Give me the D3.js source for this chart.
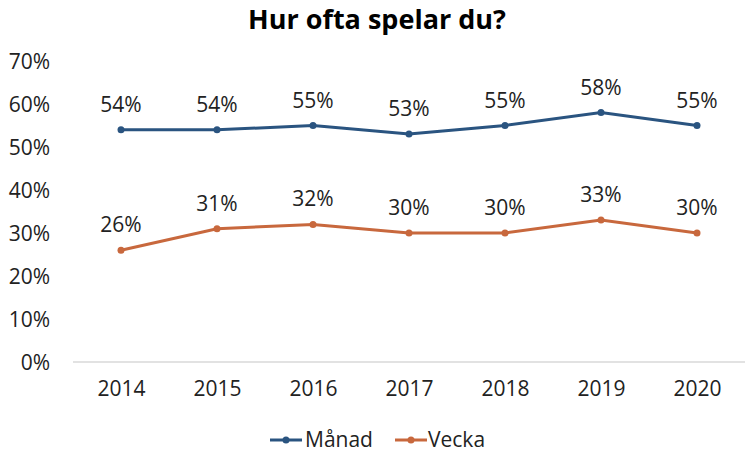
<!DOCTYPE html>
<html><head><meta charset="utf-8">
<script src="https://cdn.jsdelivr.net/npm/d3@7"></script>
<style>body{margin:0;background:#fff}svg{display:block}text{font-family:"Open Sans","Noto Sans",sans-serif;fill:#222}</style>
</head><body><svg id="c" width="750" height="458"></svg>
<script>
const years = ["2014","2015","2016","2017","2018","2019","2020"];
const manad = [54,54,55,53,55,58,55];
const vecka = [26,31,32,30,30,33,30];
const yTicks = [0,10,20,30,40,50,60,70];
const seriesNames = ["Månad","Vecka"];
const colors = ["#2a5480","#c8683d"];

const svg = d3.select("#c");
const x = d3.scalePoint().domain(years).range([121,697]);
const y = d3.scaleLinear().domain([0,70]).range([362,61]);

svg.append("text").attr("x",377).attr("y",29).attr("text-anchor","middle")
  .style("font-size","27px").style("font-weight","bold").style("fill","#000").text("Hur ofta spelar du?");

const ya = svg.append("g").attr("transform","translate(50,0)")
  .call(d3.axisLeft(y).tickValues(yTicks).tickSize(0).tickPadding(0).tickFormat(d=>d+"%"));
ya.select(".domain").remove();
ya.selectAll("text").style("font-size","21px").attr("dy","0.35em");

svg.append("line").attr("x1",73).attr("x2",745).attr("y1",y(0)).attr("y2",y(0))
  .attr("stroke","#d9d9d9").attr("stroke-width",1.3);

const xa = svg.append("g").attr("transform",`translate(0,${y(0)})`)
  .call(d3.axisBottom(x).tickSize(0).tickPadding(34));
xa.select(".domain").remove();
xa.selectAll("text").style("font-size","21px").attr("dy","0");

[manad,vecka].forEach((vals,i)=>{
  const pts = years.map((yr,j)=>[x(yr),y(vals[j]),vals[j]]);
  svg.append("path").attr("d",d3.line()(pts.map(p=>[p[0],p[1]])))
    .attr("fill","none").attr("stroke",colors[i]).attr("stroke-width",3);
  svg.selectAll(null).data(pts).enter().append("circle")
    .attr("cx",d=>d[0]).attr("cy",d=>d[1]).attr("r",3.5).attr("fill",colors[i]);
  svg.selectAll(null).data(pts).enter().append("text")
    .attr("x",d=>d[0]).attr("y",d=>d[1]-18).attr("text-anchor","middle")
    .style("font-size","21px").text(d=>d[2]+"%");
});

const lg = [{x:270,tx:305},{x:395,tx:428}];
seriesNames.forEach((n,i)=>{
  const g = svg.append("g");
  g.append("line").attr("x1",lg[i].x).attr("x2",lg[i].x+32).attr("y1",440).attr("y2",440)
    .attr("stroke",colors[i]).attr("stroke-width",3);
  g.append("circle").attr("cx",lg[i].x+16).attr("cy",440).attr("r",3.5).attr("fill",colors[i]);
  g.append("text").attr("x",lg[i].tx).attr("y",440).attr("dy","0.35em").style("font-size","21px").text(n);
});
</script></body></html>
